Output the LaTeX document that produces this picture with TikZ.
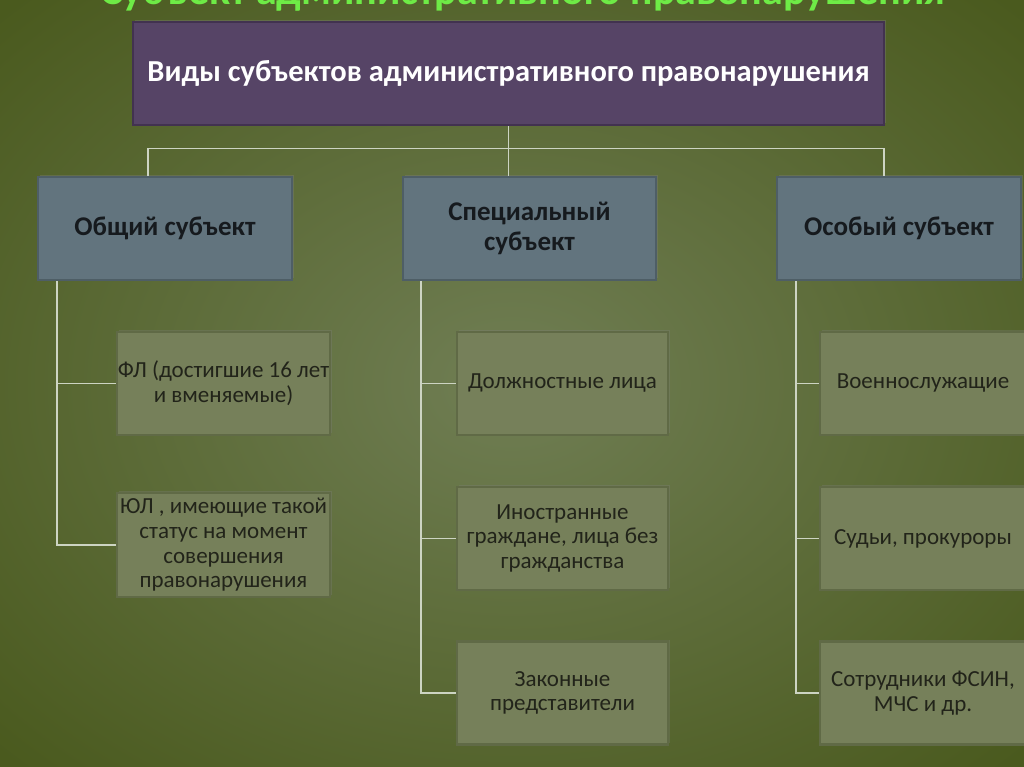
\documentclass[tikz,border=0pt]{standalone}
\usepackage{fontspec}
\setmainfont{Carlito}
\usetikzlibrary{shadows}
\definecolor{bgin}{RGB}{112,126,84}
\definecolor{bgout}{RGB}{74,90,30}
\definecolor{titlegreen}{RGB}{110,235,70}
\definecolor{topfill}{RGB}{86,68,102}
\definecolor{topedge}{RGB}{66,50,80}
\definecolor{midfill}{RGB}{98,116,126}
\definecolor{midedge}{RGB}{78,94,102}
\definecolor{leaffill}{RGB}{118,128,90}
\definecolor{leafedge}{RGB}{96,106,70}
\definecolor{linecol}{RGB}{205,212,195}
\definecolor{darktext}{RGB}{22,26,30}
\definecolor{leaftext}{RGB}{34,36,26}
\tikzset{
  topbox/.style={draw=topedge, line width=2.5pt, fill=topfill, text=white,
    font=\fontsize{30.5}{34}\selectfont\bfseries, align=center, inner sep=0pt,
    drop shadow={shadow xshift=2pt, shadow yshift=2pt, opacity=0.35}},
  midbox/.style={draw=midedge, line width=2.5pt, fill=midfill, text=darktext,
    font=\fontsize{27}{30}\selectfont\bfseries, align=center, inner sep=0pt,
    drop shadow={shadow xshift=2pt, shadow yshift=2pt, opacity=0.35}},
  leafbox/.style={draw=leafedge, line width=2.5pt, fill=leaffill, text=leaftext,
    font=\fontsize{23}{24.7}\selectfont, align=center, inner sep=0pt,
    drop shadow={shadow xshift=2pt, shadow yshift=2pt, opacity=0.3}},
  conn/.style={draw=linecol, line width=1.5pt}
}
\begin{document}
\begin{tikzpicture}[x=1pt,y=-1pt]
\useasboundingbox (0,0) rectangle (1024,767);
\begin{scope}
\clip (0,0) rectangle (1024,767);
\shade[inner color=bgin, outer color=bgout] (-200,-150) rectangle (1224,917);
\node[text=titlegreen, font=\fontsize{42}{46}\selectfont\bfseries, anchor=base] (title) at (523,5) {Субъект административного правонарушения};
\end{scope}

\node[topbox, minimum width=751pt, minimum height=103pt] (top) at (508.5,73.5) {Виды субъектов административного правонарушения};

\node[midbox, minimum width=254pt, minimum height=103pt] (obs) at (165,228.5) {Общий субъект};
\node[midbox, minimum width=253pt, minimum height=103pt] (spec) at (529.5,228.5) {Специальный\\субъект};
\node[midbox, minimum width=244pt, minimum height=103pt] (osob) at (899,228.5) {Особый субъект};

\node[leafbox, minimum width=213pt, minimum height=103pt] (fl) at (223.5,383.5) {ФЛ (достигшие 16 лет\\и вменяемые)};
\node[leafbox, minimum width=213pt, minimum height=104pt] (ul) at (223.5,545) {ЮЛ , имеющие такой\\статус на момент\\совершения\\правонарушения};

\node[leafbox, minimum width=211pt, minimum height=103pt] (dl) at (562.5,383.5) {Должностные лица};
\node[leafbox, minimum width=211pt, minimum height=103pt] (ig) at (562.5,538.5) {Иностранные\\граждане, лица без\\гражданства};
\node[leafbox, minimum width=211pt, minimum height=103pt] (zp) at (562.5,693) {Законные\\представители};

\node[leafbox, minimum width=206pt, minimum height=103pt] (vs) at (923,383.5) {Военнослужащие};
\node[leafbox, minimum width=206pt, minimum height=103pt] (sp) at (923,538.5) {Судьи, прокуроры};
\node[leafbox, minimum width=206pt, minimum height=103pt] (sf) at (923,693) {Сотрудники ФСИН,\\МЧС и др.};

% top connectors
\draw[conn] (top.south) -- (top.south |- spec.north);
\draw[conn] ([xshift=-17pt]obs.north) -- ++(0,-27) -| ([xshift=-15pt]osob.north);

% column connectors
\draw[conn] ([xshift=20pt]obs.south west) |- (fl.west);
\draw[conn] ([xshift=20pt]obs.south west) |- (ul.west);

\draw[conn] ([xshift=19pt]spec.south west) |- (dl.west);
\draw[conn] ([xshift=19pt]spec.south west) |- (ig.west);
\draw[conn] ([xshift=19pt]spec.south west) |- (zp.west);

\draw[conn] ([xshift=20pt]osob.south west) |- (vs.west);
\draw[conn] ([xshift=20pt]osob.south west) |- (sp.west);
\draw[conn] ([xshift=20pt]osob.south west) |- (sf.west);
\end{tikzpicture}
\end{document}
